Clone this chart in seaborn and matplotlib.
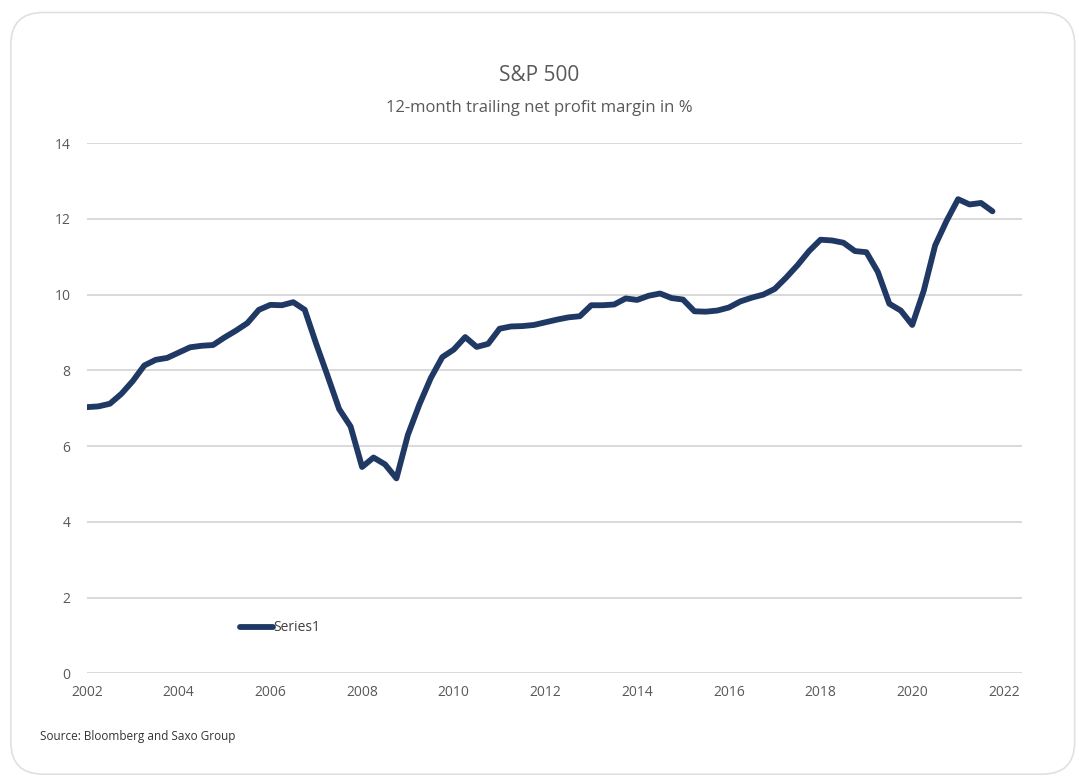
import pandas as pd
import numpy as np
import matplotlib.pyplot as plt
import seaborn as sns
from matplotlib.patches import FancyBboxPatch

# Quarterly 12-month trailing net profit margin (%), 2002Q1 - 2021Q4
quarters = [2002 + i / 4 for i in range(80)]
margin = [
    7.03, 7.05, 7.12, 7.38, 7.72, 8.13, 8.28, 8.33, 8.47, 8.61,
    8.65, 8.67, 8.87, 9.05, 9.25, 9.60, 9.73, 9.72, 9.80, 9.60,
    8.70, 7.85, 6.98, 6.52, 5.45, 5.70, 5.52, 5.15, 6.30, 7.10,
    7.80, 8.35, 8.55, 8.88, 8.62, 8.70, 9.10, 9.16, 9.17, 9.20,
    9.27, 9.34, 9.40, 9.43, 9.72, 9.72, 9.74, 9.90, 9.86, 9.97,
    10.03, 9.91, 9.87, 9.56, 9.55, 9.58, 9.66, 9.82, 9.92, 10.00,
    10.15, 10.45, 10.78, 11.15, 11.45, 11.43, 11.37, 11.15, 11.12, 10.60,
    9.76, 9.58, 9.20, 10.10, 11.30, 11.95, 12.52, 12.38, 12.42, 12.20,
]
year_ticks = list(range(2002, 2023, 2))
y_ticks = list(range(0, 15, 2))

df = pd.DataFrame({'year': quarters, 'margin': margin})

sns.set_theme(style='white')
plt.rcParams['font.family'] = ['Open Sans', 'DejaVu Sans']

fig = plt.figure(figsize=(10.79, 7.82), dpi=100)

# rounded card border (behind the axes)
card = FancyBboxPatch((0.010, 0.010), 0.986, 0.974, boxstyle='round,pad=0,rounding_size=0.03',
                      transform=fig.transFigure, facecolor='white', edgecolor='#dde1e4',
                      linewidth=1.2, mutation_aspect=1079 / 782, zorder=-10)
fig.patches.append(card)

ax = fig.add_axes([0.0806, 0.1388, 0.8664, 0.6782])
ax.set_facecolor('none')

sns.lineplot(data=df, x='year', y='margin', ax=ax, color='#1f3864', linewidth=4.2,
             label='Series1', solid_capstyle='round', solid_joinstyle='round')

ax.set_xlim(2002, 2022.39)
ax.set_ylim(0, 14)
ax.set_xticks(year_ticks)
ax.set_yticks(y_ticks)
ax.yaxis.grid(True, color='#d9d9d9', linewidth=1.4)
ax.xaxis.grid(False)
for s in ax.spines.values():
    s.set_visible(False)
ax.tick_params(axis='both', length=0, labelsize=10, labelcolor='#595959')
ax.tick_params(axis='y', pad=12)
ax.tick_params(axis='x', pad=8)
ax.set_xlabel('')
ax.set_ylabel('')

ax.legend(loc='center left', bbox_to_anchor=(0.222, 0.197), bbox_transform=fig.transFigure,
          frameon=False, fontsize=10, handlelength=2.4, handletextpad=0.05,
          borderpad=0, borderaxespad=0, labelcolor='#404040')

fig.text(0.5, 0.904, 'S&P 500', ha='center', va='center', fontsize=15, color='#595959')
fig.text(0.5, 0.862, '12-month trailing net profit margin in %', ha='center', va='center',
         fontsize=12, color='#595959')
fig.text(0.037, 0.058, 'Source: Bloomberg and Saxo Group', ha='left', va='center',
         fontsize=8.5, color='#333333')

fig.savefig('out.png', dpi=100)
plt.close()
